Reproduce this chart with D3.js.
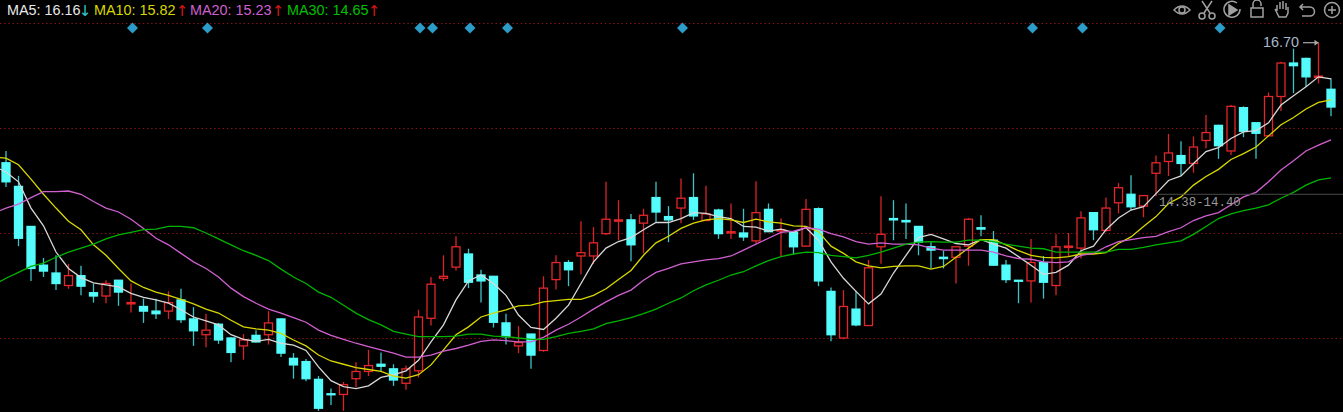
<!DOCTYPE html>
<html><head><meta charset="utf-8">
<style>html,body{margin:0;padding:0;background:#000;overflow:hidden}svg{display:block}</style>
<script src="https://cdn.jsdelivr.net/npm/d3@7/dist/d3.min.js"></script>
</head><body><svg id="c" width="1343" height="412"></svg>
<script>
const highs=[15.05,14.67,13.90,13.42,13.46,13.33,13.30,13.03,13.08,13.08,13.03,12.80,12.80,12.91,12.95,12.67,12.57,12.43,12.21,12.26,12.32,12.61,12.50,11.97,11.88,11.62,11.43,11.53,11.83,12.02,11.98,11.80,11.78,12.63,13.13,13.46,13.75,13.56,13.24,13.14,12.57,12.38,12.26,13.14,13.46,13.39,13.98,13.89,14.58,14.30,14.09,14.17,14.58,14.21,14.63,14.71,14.52,14.17,14.25,14.17,14.59,14.25,14.02,13.82,14.32,14.19,12.97,12.93,12.92,13.39,14.36,14.30,14.25,13.90,13.66,13.53,13.60,14.03,14.07,13.83,13.39,13.08,13.71,13.45,13.78,13.80,14.13,14.11,14.34,14.56,14.68,14.37,14.98,15.31,15.20,15.27,15.60,15.45,15.75,15.73,15.48,15.94,16.41,16.61,16.47,16.70,16.16];
const opens=[14.87,14.51,13.90,13.31,13.19,13.00,13.15,12.89,12.84,13.08,12.72,12.68,12.61,12.61,12.78,12.49,12.25,12.41,12.20,12.08,12.24,12.25,12.49,11.89,11.84,11.57,11.35,11.34,11.58,11.69,11.80,11.73,11.51,11.70,12.50,13.11,13.28,13.48,13.16,13.14,12.43,12.08,12.26,12.01,13.09,13.35,13.45,13.45,13.79,13.98,14.00,13.95,14.34,14.05,14.18,14.34,13.99,14.15,13.80,13.80,13.68,14.16,13.83,13.81,13.60,14.17,12.91,12.20,12.64,12.39,13.59,14.02,13.99,13.90,13.59,13.43,13.43,13.60,13.88,13.69,13.31,13.08,13.07,13.35,13.00,13.58,13.57,14.11,13.84,14.26,14.39,14.21,14.71,14.89,14.98,14.86,15.21,15.44,15.05,15.71,15.48,15.28,15.88,16.39,16.46,16.17,15.99];
const closes=[14.58,13.72,13.26,13.22,13.03,13.15,12.99,12.84,13.03,12.90,12.74,12.61,12.57,12.74,12.48,12.31,12.32,12.17,11.98,12.17,12.14,12.43,11.97,11.79,11.58,11.13,11.34,11.49,11.69,11.78,11.77,11.56,11.73,12.52,13.02,13.14,13.59,13.05,13.07,12.44,12.22,12.13,11.94,12.96,13.35,13.24,13.50,13.65,14.01,14.00,13.62,14.07,14.12,14.00,14.33,14.06,14.09,13.79,13.82,13.74,14.11,13.82,13.85,13.59,14.16,13.07,12.25,12.68,12.40,13.27,13.78,14.00,13.97,13.66,13.54,13.41,13.59,14.01,13.86,13.31,13.09,13.07,13.35,13.05,13.59,13.60,14.03,13.85,14.18,14.49,14.20,14.37,14.87,15.02,14.86,15.11,15.33,15.13,15.73,15.35,15.32,15.88,16.39,16.35,16.18,16.19,15.72];
const lows=[14.50,13.60,13.07,13.13,12.93,12.95,12.85,12.74,12.73,12.69,12.59,12.43,12.49,12.49,12.43,12.08,12.06,12.11,11.83,11.87,12.13,12.10,11.91,11.58,11.54,11.09,11.18,11.09,11.45,11.62,11.69,11.47,11.41,11.60,12.39,13.07,13.23,12.96,12.74,12.36,12.10,11.97,11.73,11.99,12.94,12.99,13.17,13.33,13.77,13.69,13.37,13.49,13.97,13.66,13.95,14.00,13.99,13.71,13.71,13.68,13.64,13.82,13.45,13.47,13.60,12.99,12.15,12.18,12.38,12.39,13.33,13.69,13.71,13.46,13.26,13.26,13.03,13.30,13.75,13.30,13.04,12.73,12.74,12.80,12.85,13.44,13.41,13.69,13.82,14.10,14.15,14.04,14.36,14.67,14.68,14.72,15.09,14.93,14.99,15.26,14.93,15.28,15.66,15.93,16.03,16.08,15.58];
// moving averages start one session before the first visible candle
const ma5=[14.82,14.73,14.58,14.18,13.91,13.51,13.26,13.12,13.04,13.01,12.98,12.88,12.82,12.78,12.73,12.63,12.52,12.46,12.40,12.25,12.18,12.15,12.18,12.12,12.09,12.01,11.76,11.55,11.46,11.43,11.47,11.60,11.64,11.70,11.86,12.14,12.40,12.78,13.07,13.16,13.03,12.85,12.55,12.36,12.33,12.50,12.70,13.03,13.36,13.57,13.67,13.73,13.85,13.96,13.96,14.02,14.11,14.10,14.05,14.02,13.90,13.89,13.83,13.86,13.81,13.88,13.69,13.36,13.11,12.91,12.72,12.87,13.19,13.46,13.73,13.78,13.71,13.64,13.62,13.70,13.63,13.57,13.44,13.31,13.17,13.20,13.31,13.53,13.60,13.85,14.03,14.15,14.20,14.40,14.60,14.67,14.86,15.04,15.10,15.24,15.34,15.36,15.48,15.75,15.89,16.03,16.18,16.15];
const ma10=[14.96,14.94,14.84,14.62,14.39,14.18,13.98,13.85,13.62,13.46,13.26,13.07,12.97,12.90,12.85,12.79,12.72,12.64,12.58,12.47,12.37,12.34,12.32,12.27,12.17,12.08,11.94,11.85,11.80,11.75,11.72,11.69,11.62,11.59,11.64,11.79,12.02,12.25,12.37,12.52,12.58,12.63,12.69,12.70,12.75,12.77,12.79,12.79,12.85,12.95,13.09,13.23,13.46,13.65,13.75,13.87,13.95,14.00,14.02,14.00,13.96,14.01,13.97,13.95,13.91,13.90,13.82,13.60,13.49,13.36,13.30,13.27,13.29,13.30,13.30,13.25,13.29,13.43,13.57,13.70,13.70,13.62,13.53,13.46,13.43,13.42,13.44,13.48,13.48,13.50,13.64,13.74,13.90,14.05,14.25,14.35,14.53,14.66,14.77,14.92,15.01,15.11,15.28,15.45,15.56,15.69,15.79,15.83];
const ma20=[14.10,14.18,14.24,14.34,14.43,14.43,14.44,14.39,14.28,14.18,14.12,14.01,13.87,13.72,13.62,13.49,13.36,13.26,13.13,12.96,12.83,12.73,12.64,12.58,12.51,12.44,12.32,12.24,12.18,12.12,12.07,12.02,11.97,11.91,11.91,11.94,12.00,12.04,12.09,12.15,12.17,12.16,12.14,12.14,12.21,12.32,12.41,12.52,12.64,12.75,12.85,12.93,13.08,13.20,13.26,13.33,13.36,13.39,13.41,13.45,13.54,13.63,13.72,13.81,13.83,13.88,13.86,13.79,13.74,13.67,13.63,13.65,13.63,13.63,13.62,13.57,13.54,13.54,13.54,13.54,13.51,13.45,13.41,13.40,13.36,13.35,13.36,13.46,13.49,13.59,13.67,13.70,13.73,13.75,13.82,13.88,13.99,14.06,14.11,14.23,14.35,14.42,14.58,14.76,14.90,15.05,15.14,15.22];
const ma30=[13.01,13.11,13.20,13.29,13.34,13.43,13.51,13.57,13.63,13.71,13.77,13.81,13.85,13.86,13.90,13.90,13.88,13.80,13.71,13.62,13.53,13.46,13.38,13.25,13.13,13.03,12.90,12.82,12.70,12.58,12.48,12.40,12.30,12.26,12.22,12.22,12.22,12.23,12.26,12.26,12.23,12.22,12.20,12.18,12.18,12.22,12.27,12.30,12.34,12.42,12.46,12.51,12.57,12.64,12.73,12.81,12.92,13.01,13.08,13.16,13.21,13.30,13.38,13.44,13.48,13.51,13.50,13.46,13.44,13.42,13.46,13.51,13.57,13.63,13.66,13.67,13.66,13.66,13.69,13.69,13.67,13.63,13.60,13.57,13.56,13.51,13.51,13.51,13.51,13.51,13.55,13.55,13.58,13.62,13.65,13.68,13.78,13.90,14.02,14.09,14.14,14.18,14.23,14.33,14.42,14.53,14.61,14.64];
const gridPrices=[17.0,15.4,13.8,12.2];
const markerSessions=[10,16,33,34,37,40,54,82,86,97];
const rangeLow=14.38, rangeHigh=14.40, rangeLabel="14.38-14.40", rangeSession=92;
const peakLabel="16.70";
const legendNames=["MA5","MA10","MA20","MA30"];
const legendValues=["16.16","15.82","15.23","14.65"];
const legendArrows=["↓","↑","↑","↑"];

const W=1343,H=412;
const svg=d3.select("#c");
svg.append("rect").attr("width",W).attr("height",H).attr("fill","#000");
const x=d3.scaleLinear().domain([0,106]).range([6,1331]);
const y=d3.scaleLinear().domain([12.2,17.0]).range([338,23]);

const RED="#e4262a", CYAN="#54fcfc";
// grid through a d3 axis
const gridAxis=d3.axisRight(y).tickValues(gridPrices).tickSize(W).tickFormat("");
const g=svg.append("g").call(gridAxis);
g.select(".domain").remove();
g.selectAll("line").attr("stroke","#8a1414").attr("stroke-width",1).attr("stroke-dasharray","1.4 2.8");

// candles
const idx=d3.range(highs.length);
const up=i=>closes[i]>=opens[i];
const cg=svg.append("g");
const bw=8;
cg.selectAll("line.w").data(idx).join("line").attr("class","w")
  .attr("x1",x).attr("x2",x).attr("y1",i=>y(highs[i])).attr("y2",i=>y(lows[i]))
  .attr("stroke",i=>up(i)?"#d82428":"#3cc4c8").attr("stroke-width",1.3);
cg.selectAll("rect.b").data(idx).join("rect").attr("class","b")
  .attr("x",i=>x(i)-bw/2).attr("width",bw)
  .attr("y",i=>y(Math.max(opens[i],closes[i])))
  .attr("height",i=>Math.max(1,Math.abs(y(opens[i])-y(closes[i]))))
  .attr("fill",i=>up(i)?"#000":CYAN)
  .attr("stroke",i=>up(i)?RED:CYAN).attr("stroke-width",1.3);

// moving averages
const line=d3.line().x((d,i)=>x(i-1)).y(d=>y(d));
[[ma5,"#d8d8d8"],[ma10,"#d8d800"],[ma20,"#d060d0"],[ma30,"#00b400"]].forEach(([s,c])=>{
  svg.append("path").attr("d",line(s)).attr("fill","none").attr("stroke",c).attr("stroke-width",1.3);
});

// markers
svg.append("g").selectAll("path").data(markerSessions).join("path")
  .attr("d",d3.symbol(d3.symbolSquare,60))
  .attr("transform",s=>`translate(${x(s)+1.5},28) rotate(45)`)
  .attr("fill","#2c9cc8");

// range line and label
const ry=y((rangeLow+rangeHigh)/2);
svg.append("line").attr("x1",x(rangeSession)+2).attr("x2",W).attr("y1",ry).attr("y2",ry).attr("stroke","#4a4a4a");
svg.append("text").attr("x",1159).attr("y",206).attr("fill","#989898").style("font-family","'Liberation Mono',monospace").style("font-size","12.4px").text(rangeLabel);

// peak label
const py=y(d3.max(highs)), px=x(d3.maxIndex(highs,d=>d));
svg.append("text").attr("x",1263).attr("y",py+4.5).attr("fill","#a8b8cc").style("font-family","'Liberation Sans',Arial,sans-serif").style("font-size","14.4px").text(peakLabel);
svg.append("path").attr("d",`M${1303},${py}H${px}`).attr("fill","none").attr("stroke","#a8a8a8").attr("stroke-width",1.2);
svg.append("path").attr("d",`M${px},${py}l-4,-3v6Z`).attr("fill","#a8a8a8");

// legend
const legendX=[7,94,190,287], arrowX=[85,182,278,374];
const legendColors=["#e8e8e8","#d8d800","#d060d0","#00c000"];
const lg=svg.append("g").style("font-family","'Liberation Sans',Arial,sans-serif").style("font-size","14.4px");
legendNames.forEach((n,i)=>{
  lg.append("text").attr("x",legendX[i]).attr("y",15).attr("fill",legendColors[i]).text(`${n}: ${legendValues[i]}`);
  lg.append("text").attr("x",arrowX[i]).attr("y",16).attr("text-anchor","middle")
    .style("font-family","'DejaVu Sans',sans-serif").style("font-size","15px")
    .attr("fill",legendArrows[i]==="↓"?"#30c8d0":"#d81818").text(legendArrows[i]);
});

// toolbar icons
const ic=svg.append("g").attr("fill","none").attr("stroke","#a0a0a0").attr("stroke-width",1.5);
const at=(px)=>ic.append("g").attr("transform",`translate(${px},10)`);
let a=at(1182);
a.append("path").attr("d","M-8,0Q0,-8 8,0Q0,8 -8,0Z");a.append("circle").attr("r",3);
a=at(1207);
a.append("path").attr("d","M-5,-9L3,3M5,-9L-3,3");a.append("circle").attr("cx",-5).attr("cy",6).attr("r",3);a.append("circle").attr("cx",5).attr("cy",6).attr("r",3);
a=at(1232);
a.append("path").attr("d","M5,-7A8,8 0 1 0 8,-1");a.append("path").attr("d","M-3,-5L5,0L-3,5Z").attr("fill","#a0a0a0");
a=at(1257);
a.append("rect").attr("x",-6).attr("y",-2).attr("width",12).attr("height",9);a.append("path").attr("d","M-4,-2V-6A4,4 0 0 1 4,-6V-4");
a=at(1282);
a.append("path").attr("d","M-5,1V-5M-2,-1V-8M1,-1V-9M4,0V-7M-5,1L-7,-1M-7,-1L-3,7H4L6,3V-3");
a=at(1307);
a.append("path").attr("d","M-4,-6L-7,-3L-4,0M-7,-3H3A4,4 0 0 1 3,6H-5");
a=at(1332);
a.append("circle").attr("r",7.5);a.append("path").attr("d","M-4,0H4M0,-4V4");
</script></body></html>
